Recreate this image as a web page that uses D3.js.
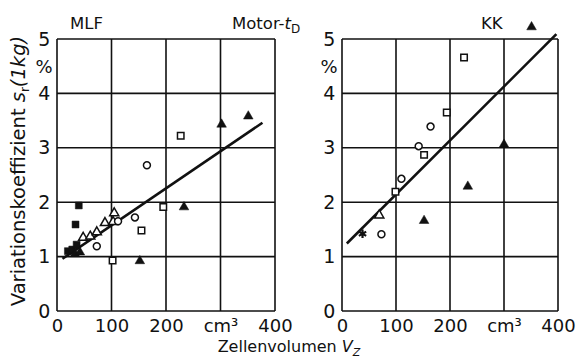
<!doctype html>
<html>
<head>
<meta charset="utf-8">
<script src="https://cdn.jsdelivr.net/npm/d3@7"></script>
<style>
  body { margin: 0; background: #fff; }
  svg { display: block; }
  text { font-family: "DejaVu Sans", sans-serif; fill: #111; }
  .ticks path, .ticks line { display: none; }
</style>
</head>
<body>
<svg width="579" height="362"></svg>
<script>
// axis ticks
var xTicks = [0, 100, 200, 300, 400];
var xTickLabels = ["0", "100", "200", "cm\u00b3", "400"];
var yTicks = [0, 1, 2, 3, 4, 5];

// MLF panel (cm3, %)
var mlfOpenSquare = [[102, 0.93], [155, 1.48], [195, 1.91], [227, 3.22]];
var mlfFilledSquare = [[40, 1.94], [34, 1.59], [20, 1.1], [28, 1.13], [36, 1.22]];
var mlfOpenTriangle = [[48, 1.35], [61, 1.37], [73, 1.45], [88, 1.62], [103, 1.64], [105, 1.8]];
var mlfOpenCircle = [[73, 1.19], [112, 1.65], [143, 1.72], [165, 2.68]];
var mlfFilledTriangle = [[33, 1.05], [42, 1.08], [152, 0.92], [233, 1.91], [302, 3.43], [351, 3.58]];
var mlfLine = [[10, 0.96], [377, 3.46]];

// KK panel
var kkStar = [[38, 1.42]];
var kkOpenCircle = [[73, 1.41], [110, 2.43], [142, 3.03], [164, 3.39]];
var kkOpenTriangle = [[69, 1.76]];
var kkOpenSquare = [[99, 2.19], [152, 2.87], [194, 3.65], [226, 4.66]];
var kkFilledTriangle = [[152, 1.66], [233, 2.29], [300, 3.06], [351, 5.22]];
var kkLine = [[9, 1.24], [397, 5.09]];

var svg = d3.select("svg");

function drawPanel(left, right, series, line) {
  var x = d3.scaleLinear().domain([0, 400]).range([left, right]);
  var y = d3.scaleLinear().domain([0, 5]).range([311, 39]);
  var g = svg.append("g");

  // grid + frame
  g.selectAll(null).data(xTicks).enter().append("line")
    .attr("x1", x).attr("x2", x).attr("y1", y(0)).attr("y2", y(5))
    .attr("stroke", "#111").attr("stroke-width", 1.6);
  g.selectAll(null).data(yTicks).enter().append("line")
    .attr("x1", x(0)).attr("x2", x(400)).attr("y1", y).attr("y2", y)
    .attr("stroke", "#111").attr("stroke-width", 1.6);

  // tick labels
  g.append("g").attr("class", "ticks")
    .attr("transform", "translate(0,311)")
    .call(d3.axisBottom(x).tickValues(xTicks).tickSize(0).tickPadding(8)
      .tickFormat(function(d, i) { return xTickLabels[i]; }))
    .selectAll("text").style("font-size", "18px").style("font-family", "DejaVu Sans").attr("fill", "#111");
  g.append("g").attr("class", "ticks")
    .attr("transform", "translate(" + (left - 7) + ",0)")
    .call(d3.axisLeft(y).tickValues(yTicks).tickSize(0).tickPadding(0).tickFormat(d3.format("d")))
    .selectAll("text").style("font-size", "19px").style("font-family", "DejaVu Sans").attr("fill", "#111")
    .attr("text-anchor", "middle").attr("dx", "-0.3em");
  g.append("text").attr("x", left - 13).attr("y", y(4.5)).attr("dy", "0.35em")
    .attr("text-anchor", "middle").style("font-size", "18px").text("%");

  // regression line
  g.append("line")
    .attr("x1", x(line[0][0])).attr("y1", y(line[0][1]))
    .attr("x2", x(line[1][0])).attr("y2", y(line[1][1]))
    .attr("stroke", "#111").attr("stroke-width", 2.6);

  // points
  series.forEach(function(s) {
    g.selectAll(null).data(s.data).enter().append("path")
      .attr("transform", function(d) { return "translate(" + x(d[0]) + "," + y(d[1]) + ")"; })
      .attr("d", d3.symbol().type(s.type).size(s.size))
      .attr("fill", s.filled ? "#111" : (s.stroke ? "none" : "#fff"))
      .attr("stroke", "#111")
      .attr("stroke-width", s.filled ? 0.5 : (s.stroke ? 2.2 : 1.5));
  });
  return { x: x, y: y };
}

var left = drawPanel(57, 275, [
  { data: mlfOpenSquare, type: d3.symbolSquare, size: 42 },
  { data: mlfFilledSquare, type: d3.symbolSquare, size: 48, filled: true },
  { data: mlfOpenTriangle, type: d3.symbolTriangle, size: 36 },
  { data: mlfOpenCircle, type: d3.symbolCircle, size: 38 },
  { data: mlfFilledTriangle, type: d3.symbolTriangle, size: 40, filled: true }
], mlfLine);

var right = drawPanel(342, 558, [
  { data: kkStar, type: d3.symbolAsterisk, size: 50, stroke: true },
  { data: kkOpenCircle, type: d3.symbolCircle, size: 38 },
  { data: kkOpenTriangle, type: d3.symbolTriangle, size: 36 },
  { data: kkOpenSquare, type: d3.symbolSquare, size: 42 },
  { data: kkFilledTriangle, type: d3.symbolTriangle, size: 40, filled: true }
], kkLine);

// titles
svg.append("text").attr("x", 70).attr("y", 29).style("font-size", "16.5px").text("MLF");
var mt = svg.append("text").attr("x", 232).attr("y", 29).style("font-size", "16.5px");
mt.append("tspan").text("Motor-");
mt.append("tspan").style("font-style", "italic").text("t");
mt.append("tspan").attr("dy", 4).style("font-size", "12px").text("D");
svg.append("text").attr("x", 481).attr("y", 29).style("font-size", "16.5px").text("KK");

// axis titles
var xt = svg.append("text").attr("x", 289).attr("y", 352).attr("text-anchor", "middle").style("font-size", "16px");
xt.append("tspan").text("Zellenvolumen ");
xt.append("tspan").style("font-style", "italic").text("V");
xt.append("tspan").attr("dy", 4).style("font-size", "11px").style("font-style", "italic").text("Z");

var yt = svg.append("text").attr("transform", "translate(25,171) rotate(-90)")
  .attr("text-anchor", "middle").style("font-size", "19.5px");
yt.append("tspan").text("Variationskoeffizient ");
yt.append("tspan").style("font-style", "italic").text("s");
yt.append("tspan").attr("dy", 4).style("font-size", "12px").text("r");
yt.append("tspan").attr("dy", -4).style("font-style", "italic").text("(1kg)");
</script>
</body>
</html>
